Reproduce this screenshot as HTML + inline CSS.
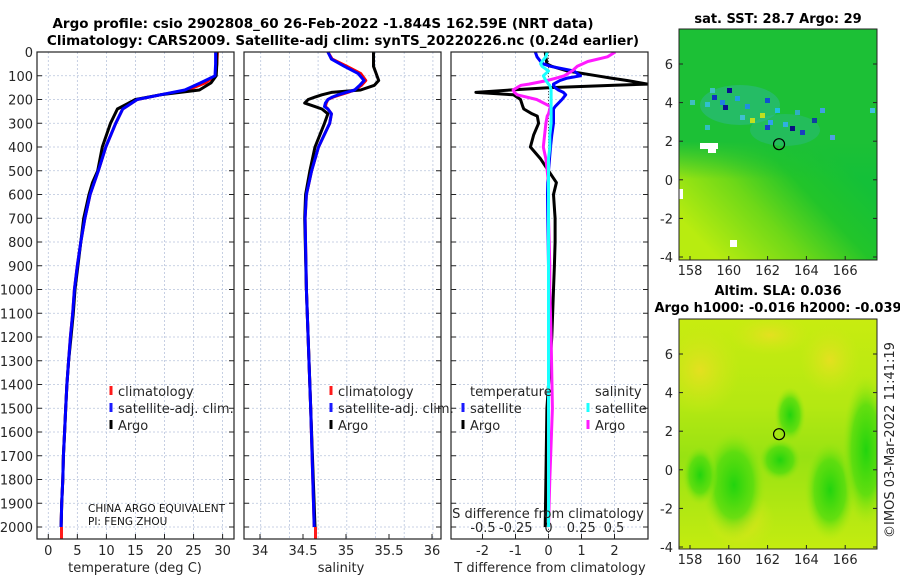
<!DOCTYPE html>
<html><head><meta charset="utf-8"><style>
body{margin:0;background:#fff;}
svg{display:block;font-family:"DejaVu Sans","Liberation Sans",sans-serif;}
</style></head><body>
<svg id="fig" width="900" height="580" viewBox="0 0 900 580">
<text x="323" y="28" text-anchor="middle" font-size="13.5" font-weight="bold">Argo profile: csio 2902808_60 26-Feb-2022 -1.844S 162.59E (NRT data)</text>
<text x="343" y="45" text-anchor="middle" font-size="13.5" font-weight="bold">Climatology: CARS2009. Satellite-adj clim: synTS_20220226.nc (0.24d earlier)</text>
<g id="plots"></g>
<g id="maps"></g>
</svg>
<script>
// ---- data ----
const depthT = [0,50,100,130,160,180,200,240,300,400,500,550,600,700,800,900,1000,1100,1200,1300,1400,1500,1600,1700,1800,1900,2000];
const tempArgo = [29.0,29.0,28.9,28.0,26.0,19.3,15.0,11.9,10.7,9.3,8.5,7.6,7.0,6.1,5.6,5.1,4.6,4.3,3.9,3.5,3.2,3.0,2.8,2.6,2.5,2.3,2.2];
const tempClim = [29.1,29.0,28.8,27.0,24.0,19.3,15.3,12.8,11.6,9.9,8.6,7.9,7.2,6.3,5.6,5.0,4.5,4.2,3.8,3.5,3.2,3.0,2.8,2.6,2.5,2.3,2.2];
const tempSat = [28.8,28.8,28.7,26.2,23.5,19.3,15.3,12.8,11.6,9.9,8.6,7.9,7.2,6.3,5.6,5.0,4.5,4.2,3.8,3.5,3.2,3.0,2.8,2.6,2.5,2.3,2.2];
const depthS = [0,30,60,90,120,140,160,170,180,190,200,215,230,240,260,300,400,500,600,700,1000,1500,2000];
const salArgo = [35.32,35.32,35.32,35.35,35.38,35.33,35.17,34.83,34.72,34.64,34.56,34.52,34.64,34.72,34.79,34.75,34.64,34.58,34.53,34.52,34.54,34.59,34.64];
const salClim = [34.79,34.84,35.01,35.17,35.23,35.18,35.10,35.02,34.93,34.85,34.79,34.77,34.76,34.79,34.83,34.81,34.68,34.60,34.54,34.525,34.54,34.59,34.63];
const salSat = [34.79,34.83,34.98,35.14,35.21,35.16,35.10,35.0,34.91,34.84,34.79,34.76,34.75,34.79,34.83,34.81,34.68,34.60,34.54,34.525,34.54,34.59,34.63];
const depthD = [0,20,40,50,60,80,100,110,120,135,140,150,160,170,180,200,230,240,260,270,300,350,400,450,500,550,600,700,800,900,1000,1200,1500,1800,2000];
const dTArgo = [-0.1,-0.08,-0.06,-0.05,0.1,0.57,1.47,1.9,2.38,3.0,2.0,0.06,-1.15,-2.2,-1.06,-0.85,-0.78,-0.75,-0.5,-0.34,-0.3,-0.45,-0.55,-0.24,0.0,0.24,0.15,0.2,0.2,0.18,0.15,0.1,-0.05,-0.08,-0.1];
const dTSat = [-0.4,-0.35,-0.24,-0.15,0.06,0.77,0.97,0.57,0.35,0.15,0.15,0.2,0.3,0.45,0.52,0.41,0.2,0.15,0.15,0.15,0.15,0.1,0.06,0.03,0.0,-0.02,-0.03,-0.02,-0.01,0.0,0.0,0.0,0.0,0.0,0.0];
const dSSat = [-0.01,-0.02,-0.05,-0.06,-0.05,0.0,-0.04,-0.03,-0.02,0.0,0.01,0.015,0.02,0.02,0.02,0.02,0.02,0.02,0.02,0.02,0.02,0.01,0.01,0.0,0.0,0.0,0.0,0.0,0.0,0.0,0.0,0.0,0.0,0.0,0.0];
const dSArgo = [0.51,0.45,0.3,0.26,0.22,0.18,0.12,0.06,-0.01,-0.15,-0.21,-0.24,-0.27,-0.26,-0.24,-0.09,0.015,0.01,0.0,-0.01,-0.02,-0.03,-0.04,-0.02,-0.01,0.0,0.0,0.0,0.005,0.01,0.01,0.02,0.03,0.01,0.0];
const depthTicks = [0,100,200,300,400,500,600,700,800,900,1000,1100,1200,1300,1400,1500,1600,1700,1800,1900,2000];
const tempTicks = [0,5,10,15,20,25,30];
const salTicks = [34,34.5,35,35.5,36];
const dTTicks = [-2,-1,0,1,2];
const dSTicks = [-0.5,-0.25,0,0.25,0.5];
const lonTicks = [158,160,162,164,166];
const latTicks = [-4,-2,0,2,4,6];

// ---- axes ----
const NS='http://www.w3.org/2000/svg';
const top0=52, bot=539;
const yD = d => 52 + d*0.2375;
const xT = t => 48.3 + t*5.81;
const xS = s => 260 + (s-34)*86;
const xDT = t => 548.5 + t*33;
const xDS = s => 548.5 + s*131;
const P=[{x0:37,x1:234},{x0:244,x1:441},{x0:451,x1:648}];
const root=document.getElementById('plots');
function el(tag,attrs,parent){const e=document.createElementNS(NS,tag);for(const k in attrs)e.setAttribute(k,attrs[k]);(parent||root).appendChild(e);return e;}
function txt(x,y,s,attrs,parent){const e=el('text',Object.assign({x:x,y:y,'font-size':13,fill:'#262626'},attrs||{}),parent);e.textContent=s;return e;}

P.forEach((p,i)=>{
  const g=el('g',{});
  
  
  depthTicks.forEach(d=>{
    const gl=el('line',{x1:p.x0,x2:p.x1,y1:yD(d),y2:yD(d),stroke:'#b8c4dc','stroke-width':0.8,'stroke-dasharray':'2,2'},g);
    
    
    el('line',{x1:p.x0,x2:p.x0+5,y1:yD(d),y2:yD(d),stroke:'#222'},g);
    el('line',{x1:p.x1-5,x2:p.x1,y1:yD(d),y2:yD(d),stroke:'#222'},g);
  });
});
tempTicks.forEach(t=>{const l=el('line',{x1:xT(t),x2:xT(t),y1:top0,y2:bot,stroke:'#b8c4dc','stroke-width':0.8,'stroke-dasharray':'2,2'});
  el('line',{x1:xT(t),x2:xT(t),y1:bot-5,y2:bot,stroke:'#222'});
  const lb=txt(xT(t),555,String(t),{'text-anchor':'middle'});});
for(let k=0;k<7;k++){const x=260.7+28.7*k;el('line',{x1:x,x2:x,y1:top0,y2:bot,stroke:'#b8c4dc','stroke-width':0.8,'stroke-dasharray':'2,2'});}
salTicks.forEach(s=>{el('line',{x1:xS(s),x2:xS(s),y1:bot-5,y2:bot,stroke:'#222'});
  const lb=txt(xS(s),555,String(s),{'text-anchor':'middle'});});
dTTicks.forEach(t=>{el('line',{x1:xDT(t),x2:xDT(t),y1:top0,y2:bot,stroke:'#b8c4dc','stroke-width':0.8,'stroke-dasharray':'2,2'});
  el('line',{x1:xDT(t),x2:xDT(t),y1:bot-5,y2:bot,stroke:'#222'});
  const lb=txt(xDT(t),555,String(t),{'text-anchor':'middle'});});
dSTicks.forEach(s=>{
  const lb=txt(xDS(s),532,String(s),{'text-anchor':'middle'});});
el('line',{x1:548.5,x2:548.5,y1:top0,y2:bot,stroke:'#555','stroke-width':1,'stroke-dasharray':'1,2'});
depthTicks.forEach(d=>{const lb=txt(33,yD(d)+5,String(d),{'text-anchor':'end'});});

function poly(xs,ds,xf,color,w,name,clip){
  const pts=xs.map((v,i)=>xf(v).toFixed(1)+','+yD(ds[i]).toFixed(1)).join(' ');
  const e=el('polyline',{points:pts,fill:'none',stroke:color,'stroke-width':w,'stroke-linejoin':'round','clip-path':clip||''});
  
  
}
const defs=el('defs',{});
const cp=el('clipPath',{id:'c3'},defs);el('rect',{x:451,y:52,width:197,height:487},cp);
poly(tempClim,depthT,xT,'#ff0000',3,'temp-climatology-line');
poly(tempArgo,depthT,xT,'#000',3,'temp-argo-line');
poly(tempSat,depthT,xT,'#0000ff',3,'temp-satellite-line');
poly(salClim,depthS,xS,'#ff0000',3,'salinity-climatology-line');
poly(salArgo,depthS,xS,'#000',3,'salinity-argo-line');
poly(salSat,depthS,xS,'#0000ff',3,'salinity-satellite-line');
poly(dTArgo,depthD,xDT,'#000',3,'t-diff-argo-line','url(#c3)');
poly(dTSat,depthD,xDT,'#0000ff',3,'t-diff-satellite-line','url(#c3)');
poly(dSArgo,depthD,xDS,'#ff1aff',3,'s-diff-argo-line','url(#c3)');
poly(dSSat,depthD,xDS,'#1affff',3,'s-diff-satellite-line','url(#c3)');
el('line',{x1:61.5,x2:61.5,y1:527,y2:539,stroke:'#ff1a1a','stroke-width':3});
el('line',{x1:315.5,x2:315.5,y1:527,y2:539,stroke:'#ff1a1a','stroke-width':3});
P.forEach(p=>{const r=el('rect',{x:p.x0,y:top0,width:p.x1-p.x0,height:bot-top0,fill:'none',stroke:'#222','stroke-width':1.2});});
[['temperature (deg C)',135,'temp-axis-title'],['salinity',341,'salinity-axis-title'],['T difference from climatology',550,'t-diff-axis-title']].forEach(a=>{const t=txt(a[1],572,a[0],{'text-anchor':'middle'});});
const st=txt(548,518,'S difference from climatology',{'text-anchor':'middle'});
function leg(x,y,color,label,name){el('line',{x1:x,x2:x,y1:y-10,y2:y-1,stroke:color,'stroke-width':3});const t=txt(x+7,y,label);}
leg(111,396,'#ff1a1a','climatology','legend-climatology');
leg(111,413,'#1a1aff','satellite-adj. clim.','legend-satellite-adj');
leg(111,430,'#000','Argo','legend-argo');
leg(331,396,'#ff1a1a','climatology','legend2-climatology');
leg(331,413,'#1a1aff','satellite-adj. clim.','legend2-satellite-adj');
leg(331,430,'#000','Argo','legend2-argo');
const tl=txt(470,396,'temperature');
const sl=txt(595,396,'salinity');
leg(463,413,'#1a1aff','satellite','legend-t-satellite');
leg(463,430,'#000','Argo','legend-t-argo');
leg(588,413,'#1affff','satellite','legend-s-satellite');
leg(588,430,'#ff1aff','Argo','legend-s-argo');
const a1=txt(88,512,'CHINA ARGO EQUIVALENT',{'font-size':10.5,fill:'#111'});
const a2=txt(88,525,'PI: FENG ZHOU',{'font-size':10.5,fill:'#111'});

// ---- maps ----
const M=document.getElementById('maps');
function map(y0,y1,latPx6,latPxm4,titles,kind,name){
  const g=el('g',{},M);
  
  
  const x0=679,x1=877;
  const lonX=l=>690+(l-158)*19.4;
  const latY=l=>latPx6+(6-l)*(latPxm4-latPx6)/10;
  const id='cm'+kind;
  const d=el('defs',{},g);
  const cpm=el('clipPath',{id:'clip'+kind},d);el('rect',{x:x0,y:y0,width:x1-x0,height:y1-y0},cpm);
  const inner=el('g',{'clip-path':'url(#clip'+kind+')'},g);
  if(kind==='sst'){
    const lg=el('linearGradient',{id:id,x1:0.7,y1:0.45,x2:0.2,y2:1},d);
    el('stop',{offset:'0','stop-color':'#14c038'},lg);el('stop',{offset:'0.3','stop-color':'#22c42a'},lg);
    el('stop',{offset:'0.6','stop-color':'#6ed818'},lg);el('stop',{offset:'1','stop-color':'#b8ec10'},lg);
    el('rect',{x:x0,y:y0,width:x1-x0,height:y1-y0,fill:'url(#'+id+')'},inner);
    const tg=el('linearGradient',{id:id+'t',x1:0,y1:0,x2:0,y2:1},d);
    el('stop',{offset:'0','stop-color':'#1cc036'},tg);el('stop',{offset:'0.75','stop-color':'#1cc036'},tg);el('stop',{offset:'1','stop-color':'#1cc036','stop-opacity':0},tg);
    el('rect',{x:x0,y:y0,width:x1-x0,height:150,fill:'url(#'+id+'t)'},inner);
    el('ellipse',{cx:740,cy:105,rx:40,ry:20,fill:'#30b8a0',opacity:0.45},inner);
    el('ellipse',{cx:785,cy:130,rx:35,ry:16,fill:'#30b8a0',opacity:0.35},inner);
    [[712,95,'#1030c0'],[720,100,'#2080e0'],[727,88,'#0a1090'],[735,96,'#20a0e0'],[705,102,'#30c0d0'],[745,104,'#2090e0'],[765,98,'#1050d0'],[775,108,'#20c0e0'],[765,125,'#1a3ad0'],[783,122,'#30b0e0'],[800,130,'#1a40c0'],[812,118,'#1040a0'],[705,125,'#30c0c0'],[740,115,'#40c0d0'],[795,110,'#30b0c0'],[820,108,'#40a0e0'],[710,88,'#40c0c0'],[690,100,'#40c0c0'],[750,118,'#c0e020'],[830,135,'#50a0e0'],[870,108,'#40c0e0'],[723,105,'#0a1090'],[768,120,'#30a0f0'],[790,126,'#0a1080'],[760,113,'#c0e020']].forEach(c=>el('rect',{x:c[0],y:c[1],width:5,height:5,fill:c[2]},inner));
    el('rect',{x:700,y:y0+114,width:18,height:6,fill:'#fff'},inner);
    el('rect',{x:708,y:y0+118,width:8,height:6,fill:'#fff'},inner);
    el('rect',{x:730,y:y0+211,width:7,height:7,fill:'#fff'},inner);
    el('rect',{x:679,y:y0+160,width:4,height:10,fill:'#fff'},inner);
  } else {
    const bg=el('linearGradient',{id:id+'b',x1:0,y1:0,x2:0,y2:1},d);
    el('stop',{offset:'0','stop-color':'#c8ec10'},bg);el('stop',{offset:'0.38','stop-color':'#b4e812'},bg);
    el('stop',{offset:'0.6','stop-color':'#98e212'},bg);el('stop',{offset:'0.85','stop-color':'#b4e812'},bg);el('stop',{offset:'1','stop-color':'#c4ec10'},bg);
    el('rect',{x:x0,y:y0,width:x1-x0,height:y1-y0,fill:'url(#'+id+'b)'},inner);
    const rg=el('radialGradient',{id:id},d);
    el('stop',{offset:'0','stop-color':'#22d40e'},rg);el('stop',{offset:'0.6','stop-color':'#50dc0e','stop-opacity':0.8},rg);el('stop',{offset:'1','stop-color':'#a0e810','stop-opacity':0},rg);
    const yg=el('radialGradient',{id:id+'y'},d);
    el('stop',{offset:'0','stop-color':'#e4e020'},yg);el('stop',{offset:'1','stop-color':'#d0e818','stop-opacity':0},yg);
    [[700,370,40,45],[770,335,40,20],[830,360,30,35],[740,520,35,30]].forEach(e=>el('ellipse',{cx:e[0],cy:e[1],rx:e[2],ry:e[3],fill:'url(#'+id+'y)'},inner));
    [[734,485,32,55],[790,415,16,28],[830,490,26,50],[866,450,24,75],[780,460,22,22],[700,475,18,30]].forEach(e=>el('ellipse',{cx:e[0],cy:e[1],rx:e[2],ry:e[3],fill:'url(#'+id+')'},inner));
  }
  el('circle',{cx:lonX(162.59),cy:latY(1.844),r:5.5,fill:'none',stroke:'#000','stroke-width':1.2},g);
  el('rect',{x:x0,y:y0,width:x1-x0,height:y1-y0,fill:'none',stroke:'#222'},g);
  lonTicks.forEach(l=>{el('line',{x1:lonX(l),x2:lonX(l),y1:y1-4,y2:y1,stroke:'#222'},g);
    const t=txt(lonX(l),y1+15,String(l),{'text-anchor':'middle'},g);});
  latTicks.forEach(l=>{el('line',{x1:x0,x2:x0+4,y1:latY(l),y2:latY(l),stroke:'#222'},g);el('line',{x1:x1-4,x2:x1,y1:latY(l),y2:latY(l),stroke:'#222'},g);
    const t=txt(673,latY(l)+5,String(l),{'text-anchor':'end'},g);});
  titles.forEach((s,i)=>{const t=txt(778,titles.length===1?y0-6:y0-24+i*17,s,{'text-anchor':'middle','font-weight':'bold',fill:'#000'},g);});
}
map(29,260,64,257,['sat. SST: 28.7 Argo: 29'],'sst','sst-map');
map(319,549,354,547,['Altim. SLA: 0.036','Argo h1000: -0.016 h2000: -0.039'],'sla','sla-map');
const ts=txt(0,0,'©IMOS 03-Mar-2022 11:41:19',{'text-anchor':'middle',transform:'translate(894,440) rotate(-90)'},M);


</script>
</body></html>
